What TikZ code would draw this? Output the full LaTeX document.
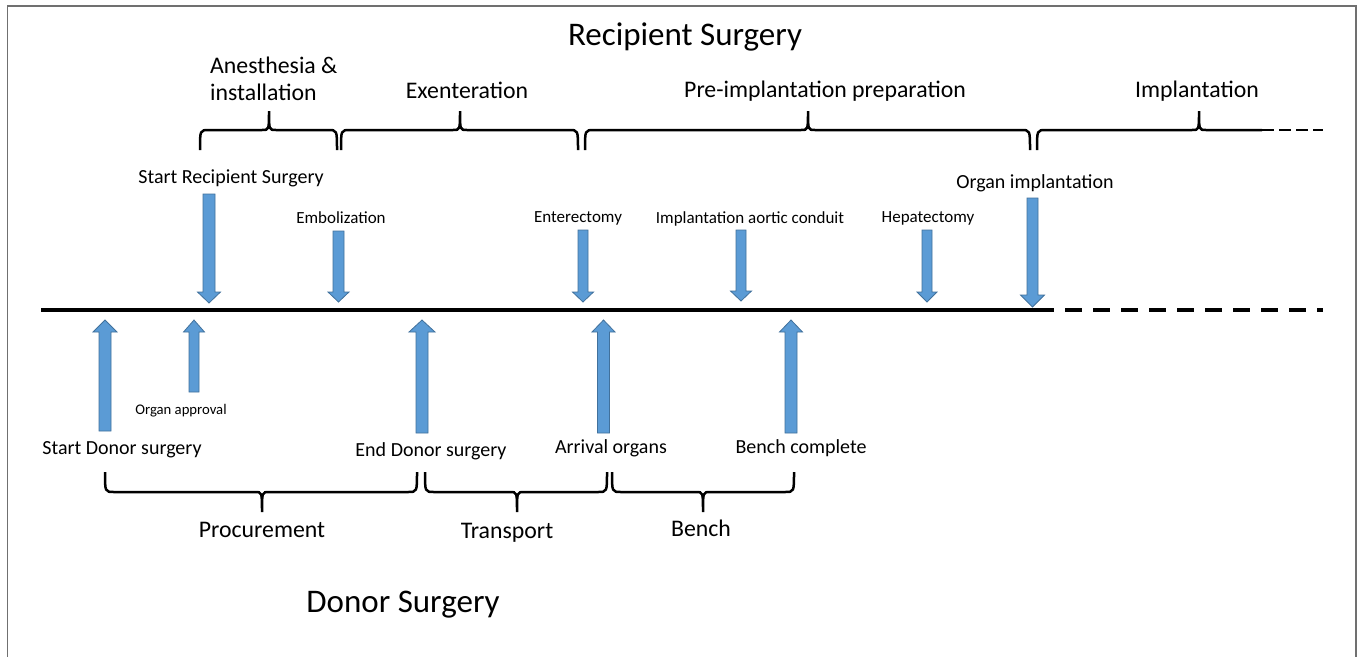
\documentclass[tikz,border=0pt]{standalone}
\usepackage{fontspec}
\setmainfont{Carlito}
\definecolor{arrfill}{HTML}{5B9BD5}
\definecolor{arrdraw}{HTML}{41719C}
\definecolor{framec}{HTML}{707070}
\tikzset{
  blk/.style={fill=arrfill,draw=arrdraw,line width=0.8pt,line join=miter},
  brc/.style={draw=black,line width=2.5pt,line cap=butt},
  lbl/.style={inner sep=0pt,anchor=base,text=black},
  big/.style={lbl,font=\fontsize{33}{38}\selectfont},
  mid/.style={lbl,font=\fontsize{23.8}{28}\selectfont},
  evt/.style={lbl,font=\fontsize{20}{24}\selectfont},
  sml/.style={lbl,font=\fontsize{17}{20}\selectfont},
  tiny/.style={lbl,font=\fontsize{14.7}{18}\selectfont},
}
\newcommand\topbrace[3]{%
  \draw[brc] (#1,150) .. controls (#1,130) .. (#1+9,130) -- (#2-7,130)
    .. controls (#2,130) .. (#2,111) .. controls (#2,130) .. (#2+7,130)
    -- (#3-9,130) .. controls (#3,130) .. (#3,150);}
\newcommand\botbrace[3]{%
  \draw[brc] (#1,472) .. controls (#1,492) .. (#1+9,492) -- (#2-7,492)
    .. controls (#2,492) .. (#2,512) .. controls (#2,492) .. (#2+7,492)
    -- (#3-9,492) .. controls (#3,492) .. (#3,472);}
\newcommand\dnblk[6]{%
  \draw[blk] (#1-#4,#2) -- (#1+#4,#2) -- (#1+#4,#3-#6) -- (#1+#5,#3-#6)
    -- (#1,#3) -- (#1-#5,#3-#6) -- (#1-#4,#3-#6) -- cycle;}
\newcommand\upblk[6]{%
  \draw[blk] (#1-#4,#2) -- (#1+#4,#2) -- (#1+#4,#3+#6) -- (#1+#5,#3+#6)
    -- (#1,#3) -- (#1-#5,#3+#6) -- (#1-#4,#3+#6) -- cycle;}
\begin{document}
\begin{tikzpicture}[x=1pt,y=-1pt]
\useasboundingbox[fill=white] (0,0) rectangle (1357,656);
% frame
\draw[framec,line width=1.5pt] (7.5,660) -- (7.5,6) -- (1356,6) -- (1356,660);

% titles
\node[big] (rs) at (685,45) {Recipient Surgery};
\node[big] (ds) at (403,612) {Donor Surgery};

% phase labels (recipient)
\node[mid,anchor=base west] (an1) at (210,73) {Anesthesia \&};
\node[mid,anchor=base west] (an2) at (210,100) {installation};
\node[mid] (ex) at (467,98) {Exenteration};
\node[mid] (pre) at (825,97) {Pre-implantation preparation};
\node[mid] (imp) at (1197,97) {Implantation};

% phase labels (donor)
\node[mid] (pro) at (262,537) {Procurement};
\node[mid] (tra) at (507,538) {Transport};
\node[mid] (ben) at (701,536) {Bench};

% top braces
\topbrace{200}{269}{337}
\topbrace{341}{460}{578}
\topbrace{585}{808}{1030}
\draw[brc] (1037,150) .. controls (1037,130) .. (1046,130) -- (1192,130)
  .. controls (1199,130) .. (1199,111) .. controls (1199,130) .. (1206,130)
  -- (1262,130);
\draw[brc,dash pattern=on 12pt off 5pt] (1262,130) -- (1323,130);

% bottom braces
\botbrace{105}{262}{417}
\botbrace{425}{517}{607}
\botbrace{612}{703}{794}

% timeline
\coordinate (tl0) at (41,310);
\coordinate (tl1) at (1037,310);
\coordinate (tl2) at (1323,310);
\draw[black,line width=3.6pt] (tl0) -- (tl1);
\draw[black,line width=3.6pt,dash pattern=on 17pt off 11pt] (tl1) -- (tl2);

% event labels (recipient)
\node[evt] (srs) at (231,183) {Start Recipient Surgery};
\node[sml] (emb) at (341,223) {Embolization};
\node[sml] (ent) at (578,222) {Enterectomy};
\node[sml] (iac) at (750,223) {Implantation aortic conduit};
\node[sml] (hep) at (928,222) {Hepatectomy};
\node[evt] (oi) at (1035,188) {Organ implantation};

% event labels (donor)
\node[tiny] (oa) at (181,414) {Organ approval};
\node[evt] (sds) at (122,454) {Start Donor surgery};
\node[evt] (eds) at (431,456) {End Donor surgery};
\node[evt] (ao) at (611,453) {Arrival organs};
\node[evt] (bc) at (801,453) {Bench complete};

% down arrows
\dnblk{209}{194}{303}{6}{11.5}{11}
\dnblk{338.5}{231}{302}{5.5}{10.5}{10}
\dnblk{583}{230}{302}{5}{10.5}{10}
\dnblk{741}{230}{301}{5}{10.5}{10}
\dnblk{927}{230}{302}{5}{10}{10}
\dnblk{1032.5}{198}{307}{5.5}{12}{12}

% up arrows
\upblk{105}{431}{320}{6}{12}{12}
\upblk{194}{392}{320}{5}{10.5}{12}
\upblk{422}{433}{320}{6}{13}{12}
\upblk{603.5}{433}{320}{6}{11.5}{12}
\upblk{791}{433}{320}{6}{11.5}{12}
\end{tikzpicture}
\end{document}
